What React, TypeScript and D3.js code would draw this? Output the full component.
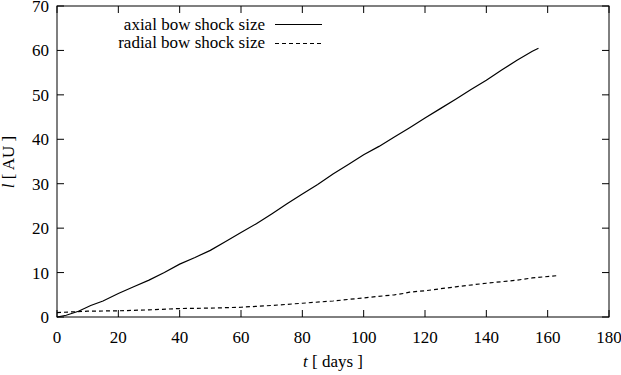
import React from "react";
import * as d3 from "d3";

const axialT = [0, 3, 7, 11, 15, 20, 25, 30, 35, 40, 45, 50, 55, 60, 65, 70, 75, 80, 85, 90, 95, 100, 105, 110, 115, 120, 125, 130, 135, 140, 145, 150, 155, 157];
const axialL = [0, 0.4, 1.3, 2.6, 3.6, 5.3, 6.8, 8.3, 10.0, 11.9, 13.4, 15.0, 17.0, 19.0, 21.0, 23.2, 25.5, 27.7, 29.8, 32.2, 34.3, 36.5, 38.4, 40.5, 42.6, 44.8, 46.9, 49.0, 51.2, 53.3, 55.6, 57.8, 59.8, 60.5];
const radialT = [0, 10, 20, 30, 40, 50, 60, 70, 80, 90, 100, 110, 113, 115, 120, 130, 140, 150, 155, 163];
const radialL = [1.0, 1.3, 1.4, 1.6, 1.9, 2.0, 2.2, 2.6, 3.1, 3.6, 4.3, 5.0, 5.3, 5.6, 5.9, 6.8, 7.6, 8.3, 8.8, 9.3];
const xTicks = [0, 20, 40, 60, 80, 100, 120, 140, 160, 180];
const yTicks = [0, 10, 20, 30, 40, 50, 60, 70];
const legendLabels = ["axial bow shock size", "radial bow shock size"];

const W = 621, H = 375;
const L = 57, R = 609, T = 6, B = 317;
const BASE = 14;
const SIZE = 17;
const K = SIZE / BASE;

function ST(props: { x: number; y: number; anchor?: string; rotate?: number; children: React.ReactNode }) {
  const { x, y, anchor = "start", rotate = 0, children } = props;
  return (
    <g transform={`translate(${x},${y}) rotate(${rotate}) scale(${K})`}>
      <text x={0} y={0} textAnchor={anchor} style={{ fontFamily: `"Liberation Serif"`, fontSize: BASE }}>
        {children}
      </text>
    </g>
  );
}

export default function App() {
  const x = d3.scaleLinear().domain([0, 180]).range([L, R]);
  const y = d3.scaleLinear().domain([0, 70]).range([B, T]);
  const line = d3.line<[number, number]>().x(d => x(d[0])).y(d => y(d[1]));
  const axial = axialT.map((t, i) => [t, axialL[i]] as [number, number]);
  const radial = radialT.map((t, i) => [t, radialL[i]] as [number, number]);
  const tk = 7;
  return (
    <svg width={W} height={H} style={{ position: "absolute", left: 0, top: 0 }}>
      <rect x={0} y={0} width={W} height={H} fill="#fff" />
      {xTicks.map(t => (
        <g key={"x" + t}>
          <line x1={x(t)} x2={x(t)} y1={B} y2={B - tk} stroke="#000" />
          <line x1={x(t)} x2={x(t)} y1={T} y2={T + tk} stroke="#000" />
          <ST x={x(t)} y={343} anchor="middle">{t}</ST>
        </g>
      ))}
      {yTicks.map(v => (
        <g key={"y" + v}>
          <line x1={L} x2={L + tk} y1={y(v)} y2={y(v)} stroke="#000" />
          <line x1={R} x2={R - tk} y1={y(v)} y2={y(v)} stroke="#000" />
          <ST x={49} y={y(v) + 6} anchor="end">{v}</ST>
        </g>
      ))}
      <rect x={L} y={T} width={R - L} height={B - T} fill="none" stroke="#000" />
      <path d={line(axial) || ""} fill="none" stroke="#000" strokeWidth={1.2} />
      <path d={line(radial) || ""} fill="none" stroke="#000" strokeWidth={1.2} strokeDasharray="4,3" />
      <ST x={265} y={30} anchor="end">{legendLabels[0]}</ST>
      <line x1={275} x2={322} y1={24.5} y2={24.5} stroke="#000" />
      <ST x={265} y={48} anchor="end">{legendLabels[1]}</ST>
      <line x1={275} x2={322} y1={43.5} y2={43.5} stroke="#000" strokeDasharray="4,3" />
      <ST x={333} y={367} anchor="middle">
        <tspan fontStyle="italic">t</tspan> [ days ]
      </ST>
      <ST x={14} y={162} anchor="middle" rotate={-90}>
        <tspan fontStyle="italic">l</tspan> [ AU ]
      </ST>
    </svg>
  );
}
